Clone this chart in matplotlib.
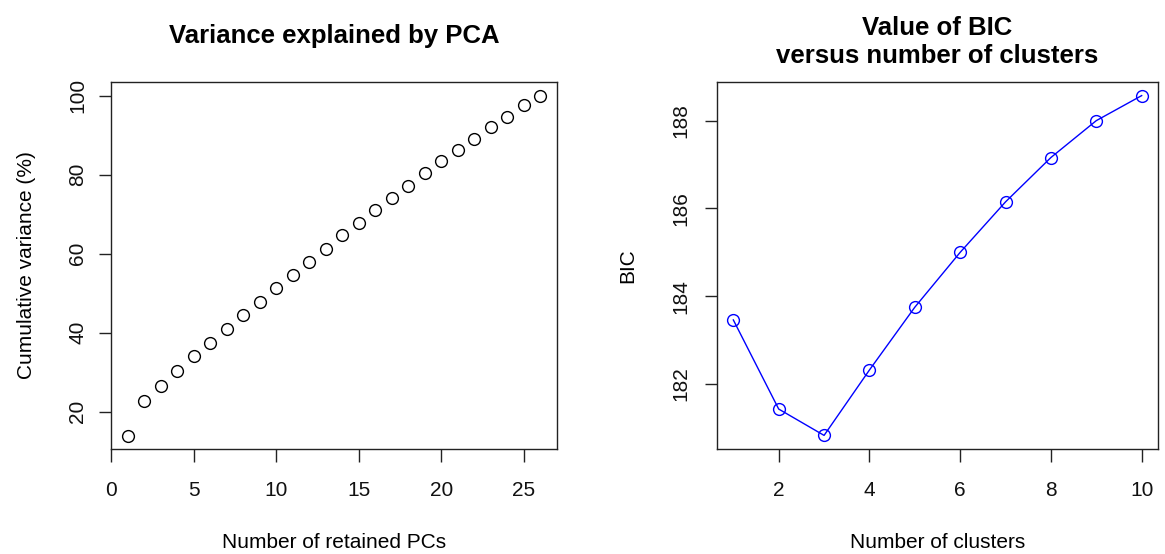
import matplotlib
matplotlib.use("Agg")
import matplotlib.pyplot as plt

# cumulative variance explained by each number of retained PCs
n_pcs = list(range(1, 27))
cum_var = [13.9, 22.7, 26.4, 30.2, 34.0, 37.4, 41.0, 44.4, 47.8, 51.3,
           54.6, 57.9, 61.2, 64.6, 67.8, 71.0, 74.1, 77.2, 80.3, 83.4,
           86.3, 89.1, 92.0, 94.7, 97.5, 100.0]

# BIC for 1..10 clusters
n_clusters = list(range(1, 11))
bic = [183.46, 181.43, 180.83, 182.32, 183.75, 185.0, 186.15, 187.16, 188.0, 188.57]

plt.rcParams['font.family'] = ['Liberation Sans', 'DejaVu Sans']

fig = plt.figure(figsize=(11.65, 5.54), dpi=100)
W, H = 1165, 554


def box(l, t, r, b):
    return [l / W, 1 - b / H, (r - l) / W, (b - t) / H]


def r_style(ax):
    for s in ax.spines.values():
        s.set_linewidth(1.0)
        s.set_color('#222222')
    ax.tick_params(axis='both', direction='out', length=9, width=1,
                   labelsize=15, color='#222222', labelcolor='#111111')
    ax.tick_params(axis='x', pad=14)
    ax.tick_params(axis='y', pad=8)
    for lab in ax.get_yticklabels():
        lab.set_rotation(90)
        lab.set_va('center')


ax1 = fig.add_axes(box(111, 82, 557, 449))
ax1.plot(n_pcs, cum_var, 'o', mfc='none', mec='black', ms=8.5, mew=1)
ax1.set_xlim(0, 27)
ax1.set_ylim(10.56, 103.44)
ax1.set_xticks([0, 5, 10, 15, 20, 25])
ax1.set_yticks([20, 40, 60, 80, 100])
r_style(ax1)
ax1.set_xlabel('Number of retained PCs', fontsize=15, labelpad=24)
ax1.set_ylabel('Cumulative variance (%)', fontsize=15, labelpad=23)
ax1.set_title('Variance explained by PCA', fontsize=18.5, fontweight='bold', pad=28)

ax2 = fig.add_axes(box(717, 82, 1158, 449))
ax2.plot(n_clusters, bic, '-o', color='#0000ff', mfc='none', mec='#0000ff',
         ms=8.5, mew=1, lw=1)
ax2.set_xlim(0.64, 10.36)
ax2.set_ylim(180.52, 188.88)
ax2.set_xticks([2, 4, 6, 8, 10])
ax2.set_yticks([182, 184, 186, 188])
r_style(ax2)
ax2.tick_params(axis='y', pad=10)
ax2.set_xlabel('Number of clusters', fontsize=15, labelpad=24)
ax2.set_ylabel('BIC', fontsize=15, labelpad=25)
ax2.set_title('Value of BIC\nversus number of clusters', fontsize=18.5,
              fontweight='bold', pad=13.5, linespacing=1.2)

fig.savefig('out.png', dpi=100)
